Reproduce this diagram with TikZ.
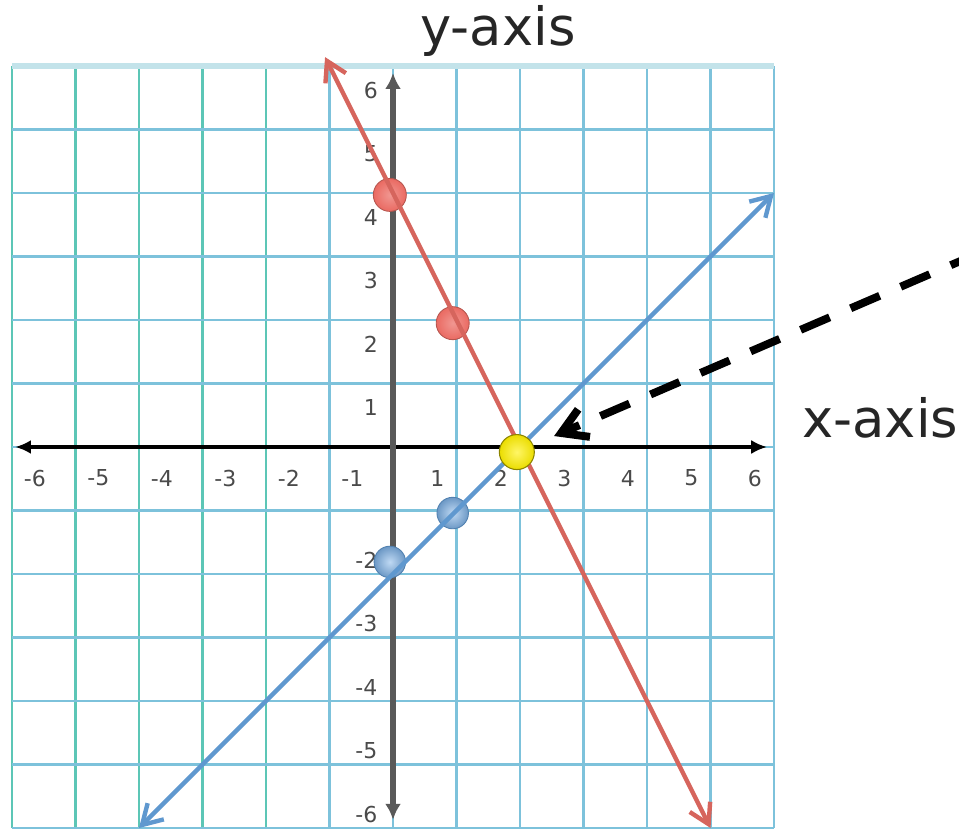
\documentclass[tikz,border=0pt]{standalone}
\usepackage{fontspec}
\setmainfont{DejaVu Sans}
\usetikzlibrary{arrows.meta}
\definecolor{GridTeal}{HTML}{5CC6B6}
\definecolor{GridBlue}{HTML}{7DC2DB}
\definecolor{GridTop}{HTML}{C3E3EA}
\definecolor{LineRed}{HTML}{D6655D}
\definecolor{LineBlue}{HTML}{5F98CF}
\definecolor{DotRed}{HTML}{EA6A62}
\definecolor{DotBlue}{HTML}{7FB3E8}
\definecolor{DotYellow}{HTML}{FFF000}
\definecolor{TickGray}{HTML}{4A4A4A}
\tikzset{
  ticklab/.style={text=TickGray,font=\fontsize{12.5}{14}\selectfont,inner sep=0pt},
  axislab/.style={font=\fontsize{30}{34}\selectfont,text=black!85,inner sep=0pt},
  reddot/.style={circle,inner sep=0pt,minimum size=0.66cm,draw=LineRed!85!black,line width=0.5pt,
    shading=radial,inner color=DotRed!70!white,outer color=DotRed},
  bluedot/.style={circle,inner sep=0pt,minimum size=0.63cm,draw=LineBlue!85!black,line width=0.5pt,
    shading=radial,inner color=DotBlue!50!white,outer color=DotBlue!85!black},
  soldot/.style={circle,inner sep=0pt,minimum size=0.7cm,draw=DotYellow!55!black,line width=0.6pt,
    shading=radial,inner color=DotYellow!60!white,outer color=DotYellow!92!black},
  lineend/.tip={Straight Barb[length=11pt,width=13pt]},
}

\begin{document}
\begin{tikzpicture}[x=1.27cm,y=1.27cm,>=Latex]
  \useasboundingbox (-6.189,-6.110) rectangle (8.913,7.039);
  % grid
  \foreach \x in {-6,...,-2}
    \draw[GridTeal,line width=1.4pt] (\x,-6)--(\x,6);
  \foreach \x in {-1,...,6}
    \draw[GridBlue,line width=1.2pt] (\x,-6)--(\x,6);
  \foreach \y in {-6,...,5}
    \draw[GridBlue,line width=1.2pt] (-6,\y)--(6,\y);
  \draw[GridTop,line width=3pt] (-6,6)--(6,6);
  % axes
  \draw[black,line width=2.2pt,{Latex[length=9pt,width=8pt]}-{Latex[length=9pt,width=8pt]}] (-5.95,0)--(5.89,0);
  \draw[black!65,line width=3pt,{Latex[length=9pt,width=9pt]}-{Latex[length=9pt,width=9pt]}] (0,-5.87)--(0,5.89);
  \foreach \k in {-6,...,-1}
    \node[ticklab] (xl\k) at (\k+0.36,-0.49) {-\the\numexpr-\k\relax};
  \foreach \k in {1,...,6}
    \node[ticklab] (xl\k) at (\k-0.3,-0.49) {\k};
  \foreach \k in {1,...,6}
    \node[ticklab] (yl\k) at (-0.35,\k-0.38) {\k};
  \foreach \k in {-6,...,-2}
    \node[ticklab] (yl\k) at (-0.42,\k+0.22) {-\the\numexpr-\k\relax};
  % points on the two lines
  \node[reddot] (r1) at (-0.05,3.97) {};
  \node[reddot] (r2) at (0.94,1.95) {};
  \node[bluedot] (b1) at (-0.05,-1.81) {};
  \node[bluedot] (b2) at (0.94,-1.04) {};
  % lines
  \draw[LineRed,line width=2.5pt,lineend-lineend] (-1.07,6.14)--(5,-6);
  \draw[LineBlue,line width=2.5pt,lineend-lineend] (-4,-6)--(6,4);
  \node[soldot] (sol) at (1.95,-0.08) {};
  % pointer
  \coordinate (tail) at (9.24,3.06);
  \draw[black,line width=4.5pt,dash pattern=on 18pt off 13pt,shorten >=0.45cm,
    -{Straight Barb[length=0.5cm,width=0.6cm]}] (tail)--(sol);
  \node[axislab,anchor=base] (ylab) at (1.654,6.315) {y-axis};
  \node[axislab,anchor=base west] (xlab) at (6.441,0.157) {x-axis};
\end{tikzpicture}
\end{document}
